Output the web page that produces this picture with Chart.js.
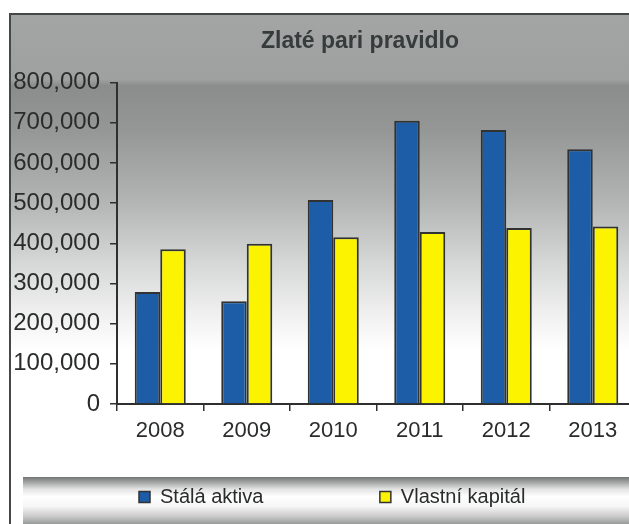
<!DOCTYPE html>
<html>
<head>
<meta charset="utf-8">
<script src="https://cdn.jsdelivr.net/npm/chart.js@4.4.1/dist/chart.umd.min.js"></script>
<style>
  html, body { margin: 0; padding: 0; background: #ffffff; overflow: hidden; width: 629px; height: 524px; }
  #c { display: block; }
</style>
</head>
<body>
<canvas id="c" width="720" height="524"></canvas>
<script>
// ---- data ----
const chartTitle = 'Zlaté pari pravidlo';
const categories = ['2008', '2009', '2010', '2011', '2012', '2013'];
const seriesNames = ['Stálá aktiva', 'Vlastní kapitál'];
const stalaAktiva = [279000, 256000, 508000, 705000, 682000, 634000];
const vlastniKapital = [385000, 399000, 415000, 428000, 438000, 442000];
const yMin = 0;
const yMax = 800000;
const yStep = 100000;

// ---- styling ----
const FONT = '"Liberation Sans", Arial, Helvetica, sans-serif';
const blue = '#1d5ca6';
const yellow = '#fcf300';
const edge = '#313333';
const textCol = '#2a2c2c';

const legendFontSize = 20;
function padLabel(text, targetWidth) {
  const m = document.createElement('canvas').getContext('2d');
  m.font = legendFontSize + 'px ' + FONT;
  let t = text;
  while (m.measureText(t).width < targetWidth) t += ' ';
  return t;
}

const backgroundPlugin = {
  id: 'bg',
  beforeDraw(chart) {
    const ctx = chart.ctx;
    ctx.save();
    ctx.fillStyle = '#ffffff';
    ctx.fillRect(0, 0, chart.width, chart.height);
    // frame fill
    const top = chart.chartArea.top;
    const y0 = 14, y1 = 350;
    const g = ctx.createLinearGradient(0, y0, 0, y1);
    const f = (y) => (y - y0) / (y1 - y0);
    g.addColorStop(0, '#a3a5a5');
    g.addColorStop(f(top - 3), '#9fa1a1');
    g.addColorStop(f(top + 3), '#8b8d8d');
    g.addColorStop(f(130), '#959797');
    g.addColorStop(f(200), '#b2b4b4');
    g.addColorStop(f(260), '#d4d5d5');
    g.addColorStop(f(310), '#eeeeee');
    g.addColorStop(1, '#ffffff');
    ctx.fillStyle = g;
    ctx.fillRect(10, 14, 700, 520);
    // legend band
    const lg = ctx.createLinearGradient(0, 477, 0, 526);
    lg.addColorStop(0, '#747676');
    lg.addColorStop(0.08, '#969898');
    lg.addColorStop(0.25, '#e4e4e4');
    lg.addColorStop(0.4, '#ffffff');
    lg.addColorStop(0.6, '#f6f6f6');
    lg.addColorStop(0.8, '#cbcbcb');
    lg.addColorStop(1, '#8a8c8c');
    ctx.fillStyle = lg;
    ctx.fillRect(23, 477, 674, 50);
    // frame border
    ctx.strokeStyle = '#464848';
    ctx.lineWidth = 2;
    ctx.strokeRect(10, 14, 700, 530);
    ctx.restore();
  }
};

const chart = new Chart(document.getElementById('c'), {
  type: 'bar',
  data: {
    labels: categories,
    datasets: [
      { label: seriesNames[0], data: stalaAktiva, backgroundColor: blue, borderColor: edge, borderWidth: 2 },
      { label: seriesNames[1], data: vlastniKapital, backgroundColor: yellow, borderColor: edge, borderWidth: 2 }
    ]
  },
  options: {
    responsive: false,
    devicePixelRatio: 1,
    animation: false,
    layout: { padding: { top: 15, bottom: 7, left: 0, right: 0 } },
    datasets: { bar: { categoryPercentage: 0.59, barPercentage: 1.0 } },
    plugins: {
      title: {
        display: true,
        text: chartTitle,
        color: '#363b3b',
        font: { family: FONT, size: 23, weight: 'bold' },
        padding: { top: 13, bottom: 27 }
      },
      legend: {
        display: true,
        position: 'bottom',
        align: 'start',
        fullSize: false,
        labels: {
          color: textCol,
          font: { family: FONT, size: legendFontSize },
          boxWidth: 11,
          boxHeight: 11,
          padding: 22,
          generateLabels(chart) {
            const items = Chart.defaults.plugins.legend.labels.generateLabels(chart);
            items.forEach((it, i) => {
              it.lineWidth = 1.5;
              it.strokeStyle = edge;
              if (i === 0) it.text = padLabel(it.text, 197);
            });
            return items;
          }
        }
      },
      tooltip: { enabled: false }
    },
    scales: {
      x: {
        offset: true,
        grid: { display: true, drawOnChartArea: false, drawTicks: true, tickLength: 7, color: '#2e3030', lineWidth: 1.5, offset: true },
        border: { display: true, color: '#2e3030', width: 2 },
        ticks: { color: textCol, font: { family: FONT, size: 22 }, padding: 7, maxRotation: 0 },
        afterFit(s) { s.height = 61; }
      },
      y: {
        min: yMin,
        max: yMax,
        grid: { display: true, drawOnChartArea: false, drawTicks: true, tickLength: 7, color: '#2e3030', lineWidth: 1.5 },
        border: { display: true, color: '#2e3030', width: 2 },
        ticks: {
          stepSize: yStep,
          color: textCol,
          font: { family: FONT, size: 24 },
          padding: 10,
          callback: (v) => v.toLocaleString('en-US')
        },
        afterFit(s) { s.width = 117; }
      },
      yR: {
        type: 'linear',
        position: 'right',
        display: true,
        grid: { display: false },
        border: { display: false },
        ticks: { display: false },
        afterFit(s) { s.width = 84; }
      }
    }
  },
  plugins: [backgroundPlugin]
});
</script>
</body>
</html>
